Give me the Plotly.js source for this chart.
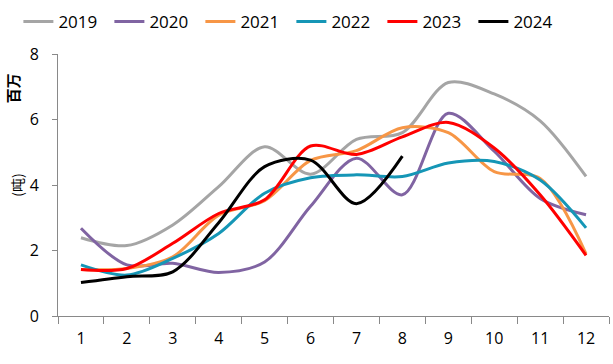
<!DOCTYPE html>
<html>
<head>
<meta charset="utf-8">
<script src="https://cdn.plot.ly/plotly-3.0.1.min.js"></script>
<style>body{margin:0;padding:0;background:#fff}#chart{width:613px;height:364px}</style>
</head>
<body>
<div id="chart"></div>
<script>
const months = ['1','2','3','4','5','6','7','8','9','10','11','12'];
const yearNames = ['2019','2020','2021','2022','2023','2024'];
const colors = ['#A5A5A5','#8064A2','#F79646','#1596B6','#FF0000','#000000'];
const v2019 = [2.39, 2.15, 2.78, 3.95, 5.17, 4.33, 5.39, 5.6, 7.13, 6.78, 5.96, 4.26];
const v2020 = [2.68, 1.56, 1.61, 1.33, 1.65, 3.35, 4.82, 3.7, 6.19, 5.03, 3.59, 3.09];
const v2021 = [1.42, 1.45, 1.81, 3.08, 3.52, 4.75, 5.05, 5.75, 5.6, 4.41, 4.2, 1.9];
const v2022 = [1.56, 1.25, 1.76, 2.52, 3.75, 4.22, 4.31, 4.26, 4.67, 4.72, 4.15, 2.69];
const v2023 = [1.42, 1.45, 2.22, 3.13, 3.55, 5.19, 4.93, 5.47, 5.91, 5.13, 3.7, 1.85];
const v2024 = [1.02, 1.2, 1.35, 2.85, 4.56, 4.76, 3.43, 4.88];
const series = [v2019, v2020, v2021, v2022, v2023, v2024];

const traces = series.map((vals, i) => ({
  type: 'scatter', mode: 'lines', name: yearNames[i],
  x: months.slice(0, vals.length), y: vals,
  line: {color: colors[i], width: 3, shape: 'spline', smoothing: 0.9}
}));

const layout = {
  width: 613, height: 364,
  margin: {l: 58, r: 4, t: 54, b: 48},
  paper_bgcolor: '#fff', plot_bgcolor: '#fff',
  font: {family: 'Open Sans, Liberation Sans, sans-serif', size: 15, color: '#000'},
  showlegend: true,
  legend: {orientation: 'h', xref: 'container', yref: 'container', x: 0.03, y: 0.94,
    xanchor: 'left', yanchor: 'middle', entrywidth: 46, entrywidthmode: 'pixels',
    font: {size: 17, color: '#000'}, bgcolor: 'rgba(0,0,0,0)', tracegroupgap: 0},
  xaxis: {type: 'category', categoryorder: 'array', categoryarray: months,
    range: [-0.5, 11.5], showgrid: false, zeroline: false, showline: true,
    linecolor: '#898989', linewidth: 1, ticks: 'outside', tickson: 'boundaries',
    ticklen: 7, tickcolor: '#898989', tickfont: {size: 16}, ticklabelstandoff: 8},
  yaxis: {range: [0, 8], dtick: 2, showgrid: false, zeroline: false, showline: true,
    linecolor: '#898989', linewidth: 1, ticks: 'outside', ticklen: 5, tickcolor: '#898989',
    tickfont: {size: 16}, ticklabelstandoff: 10},
  annotations: [
    {text: '<b>百万</b>', xref: 'paper', yref: 'paper', x: -0.083, y: 0.87, xanchor: 'center', yanchor: 'middle',
      showarrow: false, textangle: -90, font: {family: 'Noto Sans CJK SC', size: 15}},
    {text: '(吨)', xref: 'paper', yref: 'paper', x: -0.075, y: 0.5, xanchor: 'center', yanchor: 'middle',
      showarrow: false, textangle: -90, font: {family: 'Noto Sans CJK SC', size: 14}}
  ]
};
Plotly.newPlot('chart', traces, layout, {displayModeBar: false, staticPlot: true});
</script>
</body>
</html>
